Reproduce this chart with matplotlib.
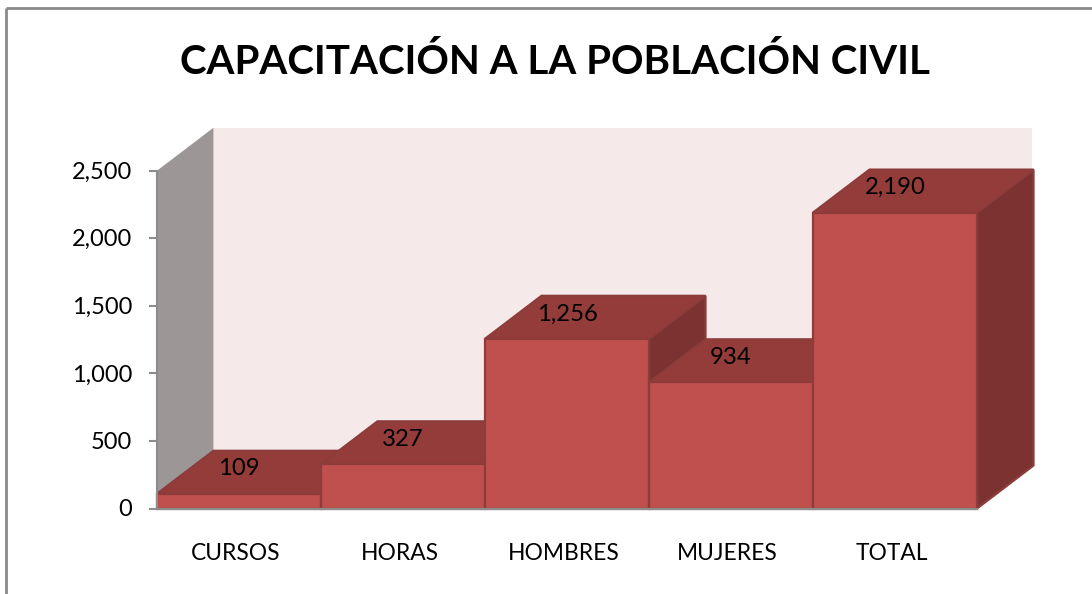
import matplotlib
matplotlib.use("Agg")
import matplotlib.pyplot as plt
from matplotlib.patches import Polygon

plt.rcParams['font.family'] = ['Lato', 'DejaVu Sans']

# Data
categories = ["CURSOS", "HORAS", "HOMBRES", "MUJERES", "TOTAL"]
values = [109, 327, 1256, 934, 2190]
y_ticks = [0, 500, 1000, 1500, 2000, 2500]
title = "CAPACITACIÓN A LA POBLACIÓN CIVIL"

W, H = 1092, 594
LEFT, RIGHT = 157, 977     # front plane, pixels
BASE, TOP = 508.5, 170.7
DX_PX, DY_PX = 56.5, 43    # depth of the 3d box, pixels

FRONT = "#C0504D"
ROOF = "#943C3A"
SIDE = "#7C3230"
EDGE = "#8C3D3B"

fig = plt.figure(figsize=(W / 100, H / 100), dpi=100)
ax = fig.add_axes([0, 0, 1, 1])

# axes covers the whole figure, category/value scale set to fit the front plane
x_unit = (RIGHT - LEFT) / len(categories)
y_unit = (BASE - TOP) / y_ticks[-1]
ax.set_xlim(-LEFT / x_unit, (W - LEFT) / x_unit)
ax.set_ylim(-(H - BASE) / y_unit, BASE / y_unit)
ax.axis("off")

dx = DX_PX / x_unit
dy = DY_PX / y_unit
n = len(categories)
ymax = y_ticks[-1]


def poly(pts, color, edge=None, z=1, lw=1.6):
    ax.add_patch(Polygon(pts, closed=True, facecolor=color,
                         edgecolor=edge if edge else color, lw=lw, zorder=z,
                         joinstyle="miter"))


# Outer frame, only top and left show in the picture
ax.plot([6 / x_unit + ax.get_xlim()[0]] * 2,
        [ax.get_ylim()[0], (H - 8) / y_unit + ax.get_ylim()[0]],
        color="#8A8A8A", lw=2, zorder=0, solid_capstyle="butt")
ax.plot([6 / x_unit + ax.get_xlim()[0], ax.get_xlim()[1]],
        [(H - 8) / y_unit + ax.get_ylim()[0]] * 2,
        color="#8A8A8A", lw=2, zorder=0, solid_capstyle="butt")

# Back wall and side wall
top_wall = ymax + dy
poly([(dx, dy), (n + dx - 0.012, dy), (n + dx - 0.012, top_wall), (dx, top_wall)], "#F5E9E9", z=1, lw=0)
poly([(0, 0), (dx, dy), (dx, top_wall), (0, ymax)], "#9C9696", z=2, lw=0)

# Boxes are drawn back-to-front from the right side of each one
for i, v in enumerate(values):
    z = 3 + i * 0.1
    poly([(i + 1, 0), (i + 1 + dx, dy), (i + 1 + dx, v + dy), (i + 1, v)], SIDE, edge=EDGE, z=z)
    poly([(i, v), (i + dx, v + dy), (i + 1 + dx, v + dy), (i + 1, v)], ROOF, edge=EDGE, z=z)
    poly([(i, 0), (i + 1, 0), (i + 1, v), (i, v)], FRONT, edge=EDGE, z=z)

# Axis lines and ticks
ax.plot([0, 0], [0, ymax], color="#8C8C8C", lw=1.5, zorder=6)
ax.plot([0, n], [0, 0], color="#8C8C8C", lw=1.5, zorder=6)
tick_len = 8 / x_unit
for t in y_ticks:
    ax.plot([-tick_len, 0], [t, t], color="#8C8C8C", lw=1.5, zorder=6, solid_capstyle="butt")
    ax.text(-tick_len - 17 / x_unit, t - 1.5 / y_unit, f"{t:,}", ha="right", va="center", fontsize=17,
            color="black", zorder=7)

# Category labels
for i, c in enumerate(categories):
    ax.text(i + 0.48, -45 / y_unit, c, ha="center", va="center", fontsize=16.4, color="black", zorder=7)

# Data labels sit on the roof of each box
for i, v in enumerate(values):
    ax.text(i + 0.5, v + dy * 0.58, f"{v:,}", ha="center", va="center",
            fontsize=17.2, color="black", zorder=8)

ax.text(555 / x_unit + ax.get_xlim()[0], (H - 62) / y_unit + ax.get_ylim()[0], title,
        ha="center", va="center", fontsize=29, fontweight="bold", color="black", zorder=8)

fig.savefig("out.png", dpi=100)
